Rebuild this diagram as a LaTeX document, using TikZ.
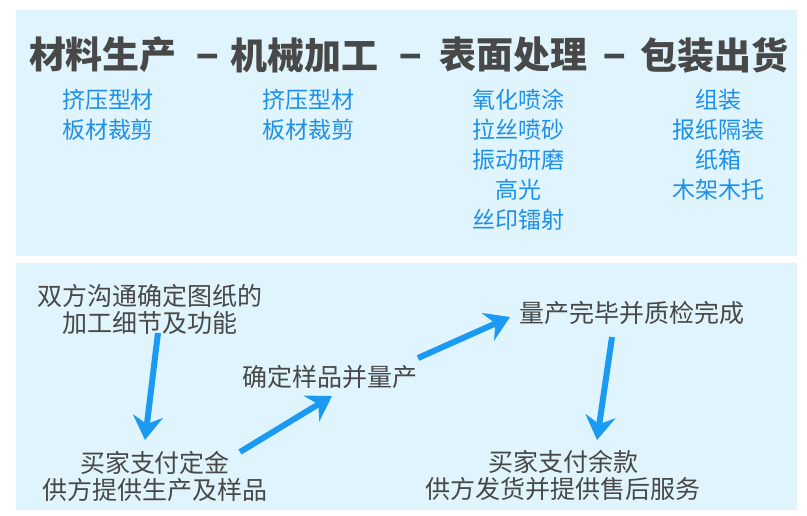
\documentclass[tikz,border=0pt]{standalone}
\usepackage{fontspec}
\setmainfont{Noto Sans CJK SC}
\usetikzlibrary{arrows.meta}
\definecolor{panel}{HTML}{DFF4FC}
\definecolor{txtgray}{HTML}{484848}
\definecolor{txtblue}{HTML}{1E90E8}
\definecolor{arrblue}{HTML}{1A9AF2}
\tikzset{
 title/.style={text=txtgray,font=\fontsize{37}{38}\selectfont\bfseries,inner sep=0pt},
 sub/.style={text=txtblue,font=\fontsize{23}{30}\selectfont,align=center,inner sep=0pt,anchor=north},
 step text/.style={text=txtgray,font=\fontsize{25}{27}\selectfont,align=center,inner sep=0pt},
 bigarrow/.style={arrblue,line width=6pt,-{Stealth[length=24pt,width=30pt,inset=8pt]}}
}
\begin{document}
\begin{tikzpicture}[x=1pt,y=-1pt]
\useasboundingbox (0,0) rectangle (807,515);
\fill[white] (0,0) rectangle (807,515);
\fill[panel] (16,10) rectangle (797,256);
\fill[panel] (16,263) rectangle (797,510);
\node[title] (t1) at (103,55) {材料生产};
\node[title] (d1) at (208,62) {−};
\node[title] (t2) at (304,55) {机械加工};
\node[title] (d2) at (411,62) {−};
\node[title] (t3) at (513,55) {表面处理};
\node[title] (d3) at (615,62) {−};
\node[title] (t4) at (714,55) {包装出货};
\node[sub] (s1) at (108,89) {挤压型材\\板材裁剪};
\node[sub] (s2) at (308,89) {挤压型材\\板材裁剪};
\node[sub] (s3) at (518,89) {氧化喷涂\\拉丝喷砂\\振动研磨\\高光\\丝印镭射};
\node[sub] (s4) at (718,89) {组装\\报纸隔装\\纸箱\\木架木托};
\node[step text] (b1) at (150,309) {双方沟通确定图纸的\\加工细节及功能};
\node[step text] (b2) at (155,476) {买家支付定金\\供方提供生产及样品};
\node[step text] (b3) at (330,377) {确定样品并量产};
\node[step text] (b4) at (632,313) {量产完毕并质检完成};
\node[step text] (b5) at (563,475) {买家支付余款\\供方发货并提供售后服务};
\coordinate (a1s) at (158,333); \coordinate (a1e) at (145,440);
\coordinate (a2s) at (240,452); \coordinate (a2e) at (332,396);
\coordinate (a3s) at (418,358); \coordinate (a3e) at (510,317);
\coordinate (a4s) at (612,337); \coordinate (a4e) at (597,440);
\draw[bigarrow] (a1s) -- (a1e);
\draw[bigarrow] (a2s) -- (a2e);
\draw[bigarrow] (a3s) -- (a3e);
\draw[bigarrow] (a4s) -- (a4e);
\end{tikzpicture}
\end{document}
